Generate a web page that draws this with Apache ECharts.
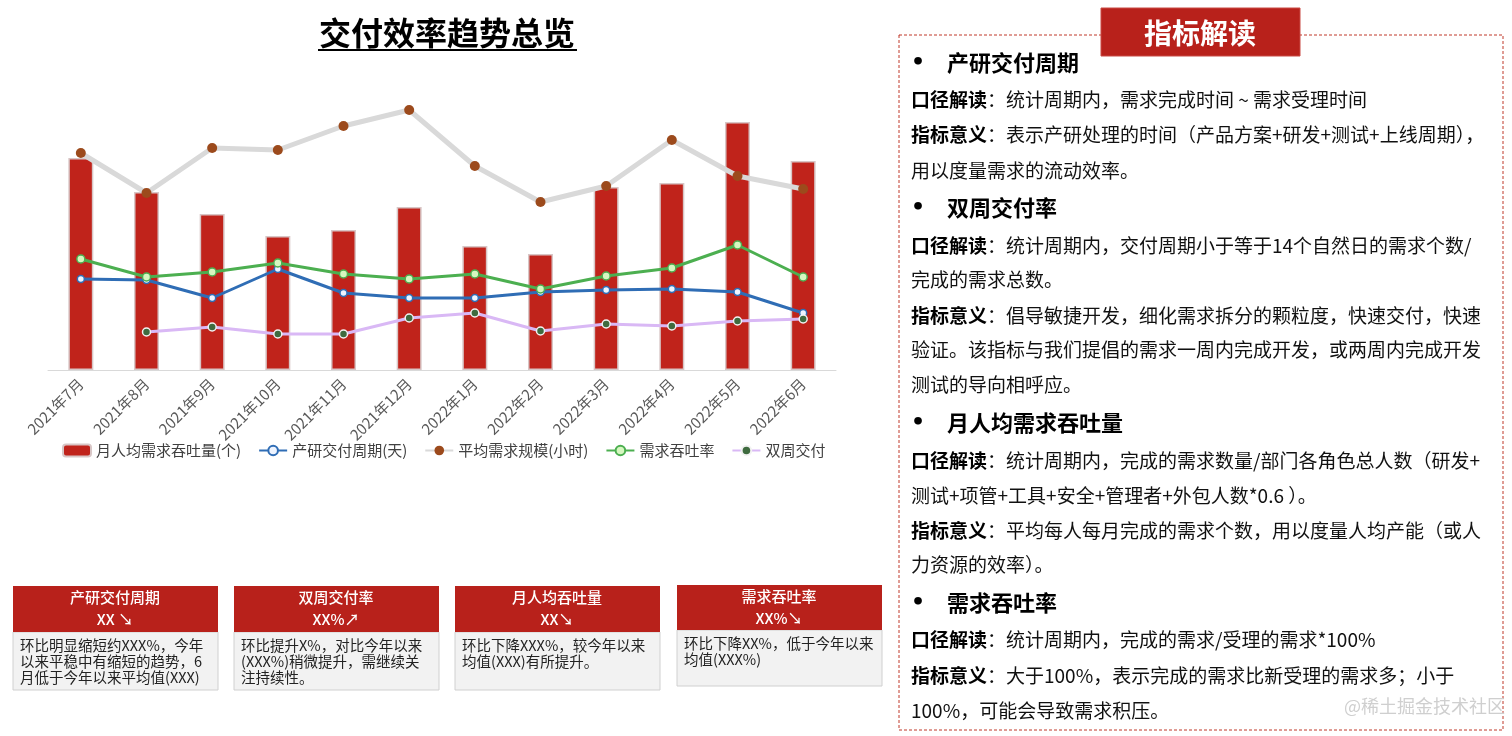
<!DOCTYPE html>
<html>
<head>
<meta charset="utf-8">
<script src="https://cdn.jsdelivr.net/npm/echarts@6/dist/echarts.min.js"></script>
<style>
html,body{margin:0;padding:0;background:#fff;}
#main{width:1512px;height:736px;}
</style>
</head>
<body>
<div id="main"></div>
<script>
const categories = ['2021年7月','2021年8月','2021年9月','2021年10月','2021年11月','2021年12月','2022年1月','2022年2月','2022年3月','2022年4月','2022年5月','2022年6月'];
const monthlyThroughput = [21.2, 17.8, 15.6, 13.4, 14.0, 16.3, 12.4, 11.6, 18.3, 18.7, 24.8, 20.9];
const cycleDays = [9.1, 9.0, 7.2, 10.1, 7.7, 7.2, 7.2, 7.8, 8.0, 8.1, 7.8, 5.7];
const avgSizeHours = [43.4, 35.4, 44.4, 44.0, 48.8, 52.0, 40.8, 33.6, 36.8, 46.0, 38.8, 36.2];
const throughputRate = [111, 93, 98, 107, 96, 91, 96, 81, 94, 102, 125, 93];
const biweeklyDelivery = [null, 38, 43, 36, 36, 52, 57, 39, 46, 44, 49, 51];

const cards = [
  {title: '产研交付周期', value: 'XX ↘', lines: ['环比明显缩短约XXX%，今年', '以来平稳中有缩短的趋势，6', '月低于今年以来平均值(XXX)']},
  {title: '双周交付率', value: 'XX%↗', lines: ['环比提升X%，对比今年以来', '(XXX%)稍微提升，需继续关', '注持续性。']},
  {title: '月人均吞吐量', value: 'XX↘', lines: ['环比下降XXX%，较今年以来', '均值(XXX)有所提升。']},
  {title: '需求吞吐率', value: 'XX%↘', lines: ['环比下降XX%，低于今年以来', '均值(XXX%)']}
];

const panelLines = [
  {h: '产研交付周期'},
  {b: '口径解读', t: '：统计周期内，需求完成时间 ~ 需求受理时间'},
  {b: '指标意义', t: '：表示产研处理的时间（产品方案+研发+测试+上线周期），'},
  {t: '用以度量需求的流动效率。'},
  {h: '双周交付率'},
  {b: '口径解读', t: '：统计周期内，交付周期小于等于14个自然日的需求个数/'},
  {t: '完成的需求总数。'},
  {b: '指标意义', t: '：倡导敏捷开发，细化需求拆分的颗粒度，快速交付，快速'},
  {t: '验证。该指标与我们提倡的需求一周内完成开发，或两周内完成开发'},
  {t: '测试的导向相呼应。'},
  {h: '月人均需求吞吐量'},
  {b: '口径解读', t: '：统计周期内，完成的需求数量/部门各角色总人数（研发+'},
  {t: '测试+项管+工具+安全+管理者+外包人数*0.6 ）。'},
  {b: '指标意义', t: '：平均每人每月完成的需求个数，用以度量人均产能（或人'},
  {t: '力资源的效率）。'},
  {h: '需求吞吐率'},
  {b: '口径解读', t: '：统计周期内，完成的需求/受理的需求*100%'},
  {b: '指标意义', t: '：大于100%，表示完成的需求比新受理的需求多；小于'},
  {t: '100%，可能会导致需求积压。'}
];
const panelY = [63, 100, 135, 171, 208, 246, 280, 316, 350, 385, 423, 461, 496, 531, 565, 603, 640, 676, 711];

const FF = '"Noto Sans CJK SC", "Noto Sans", sans-serif';
const RED = '#b8211b';

const graphic = [];
// title
graphic.push({type: 'text', x: 447, y: 33, style: {text: '交付效率趋势总览', font: 'bold 32px ' + FF, fill: '#000', textAlign: 'center', textVerticalAlign: 'middle'}});
graphic.push({type: 'line', shape: {x1: 318, y1: 50, x2: 577, y2: 50}, style: {stroke: '#000', lineWidth: 2}});

// cards
const cardX = [13, 234, 455, 677];
cards.forEach((c, i) => {
  const x = cardX[i];
  const top = i === 3 ? 585 : 586;
  const hh = i === 3 ? 45 : 46;
  const bodyH = i === 3 ? 56 : 58;
  graphic.push({type: 'rect', shape: {x: x, y: top + hh, width: 205, height: bodyH}, style: {fill: '#f2f2f2', stroke: '#d0d0d0', lineWidth: 1}});
  graphic.push({type: 'rect', shape: {x: x, y: top, width: 205, height: hh}, style: {fill: RED}});
  graphic.push({type: 'text', x: x + 102, y: top + 11, style: {text: c.title, font: '500 15px ' + FF, fill: '#fff', textAlign: 'center', textVerticalAlign: 'middle'}});
  graphic.push({type: 'text', x: x + 102, y: top + 33, style: {text: c.value, font: '500 15px ' + FF, fill: '#fff', textAlign: 'center', textVerticalAlign: 'middle'}});
  c.lines.forEach((l, j) => {
    graphic.push({type: 'text', x: x + 7, y: top + hh + 13 + j * 16, style: {text: l, font: '14.5px ' + FF, fill: '#222', textAlign: 'left', textVerticalAlign: 'middle'}});
  });
});

// right panel
graphic.push({type: 'rect', shape: {x: 899, y: 35, width: 604, height: 695}, style: {fill: 'none', stroke: '#c0392b', lineWidth: 1, lineDash: [3, 2]}});
graphic.push({type: 'rect', shape: {x: 1101, y: 8, width: 199, height: 48}, style: {fill: RED, stroke: '#c94a44', lineWidth: 1}});
graphic.push({type: 'text', x: 1200, y: 33, style: {text: '指标解读', font: 'bold 28px ' + FF, fill: '#fff', textAlign: 'center', textVerticalAlign: 'middle'}});

panelLines.forEach((p, i) => {
  const y = panelY[i];
  if (p.h) {
    graphic.push({type: 'text', x: 911, y: y, style: {text: '•', font: 'bold 22px "DejaVu Sans", sans-serif', fill: '#000', textAlign: 'left', textVerticalAlign: 'middle'}});
    graphic.push({type: 'text', x: 947, y: y, style: {text: p.h, font: 'bold 22px ' + FF, fill: '#000', textAlign: 'left', textVerticalAlign: 'middle'}});
  } else {
    const txt = (p.b ? '{b|' + p.b + '}' : '') + '{n|' + p.t + '}';
    graphic.push({type: 'text', x: 911, y: y, style: {
      text: txt, font: '19px ' + FF, fill: '#111', textAlign: 'left', textVerticalAlign: 'middle',
      rich: {
        b: {font: 'bold 19px ' + FF, fill: '#000'},
        n: {font: '19px ' + FF, fill: '#111'}
      }
    }});
  }
});
graphic.push({type: 'text', x: 1505, y: 706, style: {text: '@稀土掘金技术社区', font: '18px ' + FF, fill: '#cfcfcf', textAlign: 'right', textVerticalAlign: 'middle'}});

const chart = echarts.init(document.getElementById('main'));
chart.setOption({
  animation: false,
  textStyle: {fontFamily: FF},
  grid: {left: 48, right: 676, top: 100, bottom: 366},
  legend: {
    left: 57, top: 438, itemWidth: 28, itemHeight: 12, itemGap: 17,
    textStyle: {fontSize: 15, color: '#404040'},
    data: ['月人均需求吞吐量(个)', '产研交付周期(天)', '平均需求规模(小时)', '需求吞吐率', '双周交付']
  },
  xAxis: {
    type: 'category', data: categories,
    axisLine: {lineStyle: {color: '#d9d9d9', width: 1}},
    axisTick: {show: false},
    axisLabel: {interval: 0, rotate: 45, fontSize: 15, color: '#595959', margin: 11}
  },
  yAxis: [
    {type: 'value', min: 0, max: 27, show: false},
    {type: 'value', min: 0, max: 54, show: false},
    {type: 'value', min: 0, max: 27, show: false},
    {type: 'value', min: 0, max: 270, show: false}
  ],
  series: [
    {name: '月人均需求吞吐量(个)', type: 'bar', yAxisIndex: 0, data: monthlyThroughput, barWidth: 25,
      itemStyle: {color: '#c0231b', borderColor: '#d8c6c6', borderWidth: 1.5}, z: 1},
    {name: '平均需求规模(小时)', type: 'line', yAxisIndex: 1, data: avgSizeHours, symbol: 'circle', symbolSize: 10,
      lineStyle: {color: '#d9d9d9', width: 5}, itemStyle: {color: '#9c4a1c'}, z: 3},
    {name: '产研交付周期(天)', type: 'line', yAxisIndex: 2, data: cycleDays, symbol: 'circle', symbolSize: 7,
      lineStyle: {color: '#2f6db5', width: 3}, itemStyle: {color: '#eef4ff', borderColor: '#2f6db5', borderWidth: 1.5}, z: 4},
    {name: '需求吞吐率', type: 'line', yAxisIndex: 3, data: throughputRate, symbol: 'circle', symbolSize: 8,
      lineStyle: {color: '#4caf50', width: 3}, itemStyle: {color: '#d6f7c0', borderColor: '#4caf50', borderWidth: 1.5}, z: 5},
    {name: '双周交付', type: 'line', yAxisIndex: 3, data: biweeklyDelivery, symbol: 'circle', symbolSize: 8,
      lineStyle: {color: '#d9b8f5', width: 3}, itemStyle: {color: '#3f6b3f', borderColor: '#f2f2f2', borderWidth: 1.5}, z: 4}
  ],
  graphic: graphic
});
</script>
</body>
</html>
